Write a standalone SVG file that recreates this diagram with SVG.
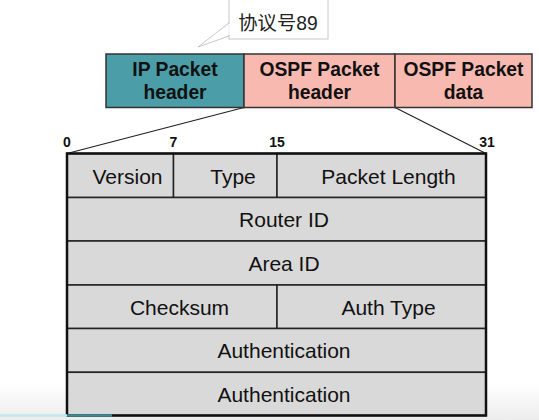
<svg xmlns="http://www.w3.org/2000/svg" width="539" height="420" viewBox="0 0 539 420">
<style>
.hdr{stroke:#333;stroke-width:1.5}
.ht{font-family:"Liberation Sans",Arial,sans-serif;font-weight:bold;font-size:19.3px;fill:#111;text-anchor:middle}
.cell{fill:#d9d9d9;stroke:#222;stroke-width:1.5}
.ct{font-family:"Liberation Sans",Arial,sans-serif;font-size:21px;fill:#111;text-anchor:middle}
.bit{font-family:"Liberation Sans",Arial,sans-serif;font-weight:bold;font-size:14px;fill:#111;text-anchor:middle}
.conn{stroke:#222;stroke-width:1.2;fill:none}
</style>
<defs>
<linearGradient id="fade" x1="0" y1="0" x2="0" y2="1">
<stop offset="0" stop-color="#ffffff"/>
<stop offset="1" stop-color="#ececec"/>
</linearGradient>
</defs>
<rect x="0" y="0" width="539" height="420" fill="#ffffff"/>
<rect x="0" y="385" width="539" height="35" fill="url(#fade)"/>

<g id="callout">
<polygon points="229,23 198,47 229,36" fill="#ffffff" stroke="#c8c8c8" stroke-width="1"/>
<rect x="229" y="-1" width="99" height="40" fill="#ffffff" stroke="#c8c8c8" stroke-width="1"/>
<line x1="229" y1="24" x2="229" y2="35" stroke="#ffffff" stroke-width="1.5"/>
<text x="278" y="30" font-family="'Liberation Sans','Noto Sans CJK SC',sans-serif" font-size="19.3px" fill="#222" text-anchor="middle">协议号89</text>
</g>

<g id="connectors">
<line class="conn" x1="244" y1="107.5" x2="67" y2="153.5"/>
<line class="conn" x1="395" y1="107.5" x2="486" y2="153.5"/>
</g>

<g id="ip-header">
<rect class="hdr" x="106" y="54" width="138" height="53.5" fill="#4b9ea7"/>
<text class="ht" x="175" y="76">IP Packet</text>
<text class="ht" x="175" y="99">header</text>
</g>
<g id="ospf-header">
<rect class="hdr" x="244" y="54" width="151" height="53.5" fill="#f8bab0"/>
<text class="ht" x="319.5" y="76">OSPF Packet</text>
<text class="ht" x="319.5" y="99">header</text>
</g>
<g id="ospf-data">
<rect class="hdr" x="395" y="54" width="137" height="53.5" fill="#f8bab0"/>
<text class="ht" x="463.5" y="76">OSPF Packet</text>
<text class="ht" x="463.5" y="99">data</text>
</g>

<g id="bits">
<text class="bit" x="67" y="147">0</text>
<text class="bit" x="173.5" y="147">7</text>
<text class="bit" x="277" y="147">15</text>
<text class="bit" x="487" y="147">31</text>
</g>

<g id="version"><rect class="cell" x="67" y="153.5" width="106.5" height="44"/><text class="ct" x="127.5" y="184">Version</text></g>
<g id="type"><rect class="cell" x="173.5" y="153.5" width="103.5" height="44"/><text class="ct" x="233" y="184">Type</text></g>
<g id="packet-length"><rect class="cell" x="277" y="153.5" width="209" height="44"/><text class="ct" x="388.5" y="184">Packet Length</text></g>
<g id="router-id"><rect class="cell" x="67" y="197.5" width="419" height="43.5"/><text class="ct" x="284" y="227">Router ID</text></g>
<g id="area-id"><rect class="cell" x="67" y="241" width="419" height="44"/><text class="ct" x="284" y="271">Area ID</text></g>
<g id="checksum"><rect class="cell" x="67" y="285" width="210" height="43.5"/><text class="ct" x="179.5" y="315">Checksum</text></g>
<g id="auth-type"><rect class="cell" x="277" y="285" width="209" height="43.5"/><text class="ct" x="388.5" y="315">Auth Type</text></g>
<g id="authentication-1"><rect class="cell" x="67" y="328.5" width="419" height="43.8"/><text class="ct" x="284" y="358">Authentication</text></g>
<g id="authentication-2"><rect class="cell" x="67" y="372.3" width="419" height="43.2"/><text class="ct" x="284" y="402">Authentication</text></g>

<rect x="67" y="153.5" width="419" height="262" fill="none" stroke="#111" stroke-width="2.5"/>

<line x1="0" y1="415.5" x2="67" y2="415.5" stroke="#bfeaf0" stroke-width="2.5"/>
<line x1="67" y1="415.5" x2="112" y2="415.5" stroke="#3e8c96" stroke-width="2.5"/>
</svg>
